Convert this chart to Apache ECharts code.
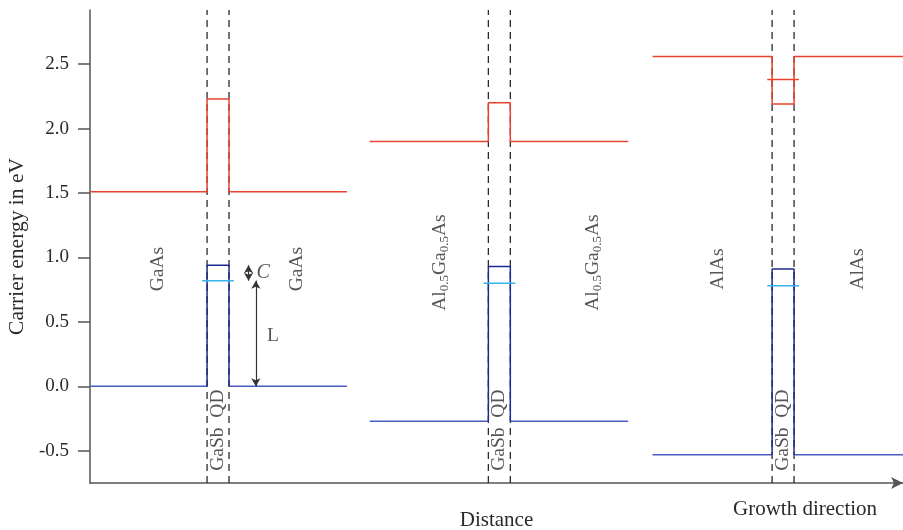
<!DOCTYPE html>
<html>
<head>
<meta charset="utf-8">
<script src="https://cdn.jsdelivr.net/npm/echarts@6/dist/echarts.min.js"></script>
<style>
  html, body { margin: 0; padding: 0; background: #fff; }
  #chart { width: 903px; height: 530px; }
</style>
</head>
<body>
<div id="chart"></div>
<script>
// three heterostructures: barrier material + GaSb QD
const barrierNames = ['GaAs', 'Al{s|0.5}Ga{s|0.5}As', 'AlAs']
const barrierStart = [0, 34.4, 69.2]
const wellLeft = [14.4, 49.0, 83.9]
const wellRight = [17.1, 51.7, 86.6]
const barrierEnd = [31.6, 66.2, 100]
// band edges (eV)
const cbBarrier = [1.51, 1.90, 2.56]
const cbWell = [2.23, 2.20, 2.19]
const vbBarrier = [0.0, -0.27, -0.53]
const vbWell = [0.94, 0.93, 0.91]
const holeLevel = [0.82, 0.80, 0.78]
const electronLevel = [null, null, 2.38]
// label positions (distance, energy)
const barrierLabelX = [[8.4, 25.5], [43.0, 61.9], [77.2, 94.5]]
const barrierLabelY = [0.91, 0.96, 0.91]
const qdLabelY = -0.34
const yTicks = [-0.5, 0.0, 0.5, 1.0, 1.5, 2.0, 2.5]
const yMin = -0.75
const yMax = 2.92

const RED = '#e8432f'
const BLUE = '#4a5cc2'
const NAVY = '#1b2b8f'
const CYAN = '#33b6ea'
const TEXT = '#2a2a2a'
const FONT = '"Liberation Serif", "DejaVu Serif", serif'

const chart = echarts.init(document.getElementById('chart'))

function seg (data, color, extra) {
  return Object.assign({
    type: 'line',
    data: data,
    symbol: 'none',
    silent: true,
    lineStyle: { color: color, width: 1.5 },
    z: 3
  }, extra || {})
}

const series = []
for (let i = 0; i < 3; i++) {
  const bs = barrierStart[i]
  const be = barrierEnd[i]
  const wl = wellLeft[i]
  const wr = wellRight[i]
  // dashed QD borders
  series.push(seg([[wl, yMin], [wl, yMax]], '#333', { lineStyle: { color: '#2a2a2a', width: 1.3, type: [7, 5] }, z: 2 }))
  series.push(seg([[wr, yMin], [wr, yMax]], '#333', { lineStyle: { color: '#2a2a2a', width: 1.3, type: [7, 5] }, z: 2 }))
  // conduction band
  series.push(seg([[bs, cbBarrier[i]], [wl, cbBarrier[i]], [wl, cbWell[i]], [wr, cbWell[i]], [wr, cbBarrier[i]], [be, cbBarrier[i]]], RED))
  if (electronLevel[i] !== null) {
    series.push(seg([[wl - 0.6, electronLevel[i]], [wr + 0.6, electronLevel[i]]], RED))
  }
  // valence band
  series.push(seg([[bs, vbBarrier[i]], [wl, vbBarrier[i]]], BLUE))
  series.push(seg([[wr, vbBarrier[i]], [be, vbBarrier[i]]], BLUE))
  series.push(seg([[wl, vbBarrier[i]], [wl, vbWell[i]], [wr, vbWell[i]], [wr, vbBarrier[i]]], NAVY, { z: 4 }))
  // hole ground state
  series.push(seg([[wl - 0.6, holeLevel[i]], [wr + 0.6, holeLevel[i]]], CYAN, { z: 5 }))
}

// text labels placed in data coordinates
const labelPoints = []
for (let i = 0; i < 3; i++) {
  barrierLabelX[i].forEach(function (x) {
    labelPoints.push({ value: [x, barrierLabelY[i]], name: barrierNames[i], rotate: 90 })
  })
  labelPoints.push({ value: [(wellLeft[i] + wellRight[i]) / 2, qdLabelY], name: 'GaSb  QD', rotate: 90 })
}
labelPoints.push({ value: [21.3, 0.88], name: '{i|C}', rotate: 0 })
labelPoints.push({ value: [22.5, 0.39], name: 'L', rotate: 0 })

series.push({
  type: 'scatter',
  symbolSize: 0,
  silent: true,
  z: 6,
  data: labelPoints.map(function (p) {
    return { value: p.value, name: p.name, label: { rotate: p.rotate } }
  }),
  label: {
    show: true,
    position: 'inside',
    formatter: function (p) { return p.name },
    color: TEXT,
    fontFamily: FONT,
    fontSize: 19.5,
    lineHeight: 22,
    rich: {
      s: { fontFamily: FONT, fontSize: 13, lineHeight: 12, verticalAlign: 'bottom', color: TEXT },
      i: { fontFamily: FONT, fontSize: 20, fontStyle: 'italic', color: TEXT }
    }
  },
  // double arrows for C and L
  markLine: {
    silent: true,
    symbol: ['arrow', 'arrow'],
    symbolSize: [7, 8],
    label: { show: false },
    lineStyle: { color: '#333', width: 1.2, type: 'solid' },
    data: [
      [{ coord: [19.5, vbWell[0]] }, { coord: [19.5, holeLevel[0]] }],
      [{ coord: [20.4, holeLevel[0]] }, { coord: [20.4, 0] }]
    ]
  }
})

const option = {
  animation: false,
  grid: { left: 90, right: 0, top: 10, bottom: 47, containLabel: false, outerBoundsMode: 'none' },
  xAxis: {
    type: 'value',
    min: 0,
    max: 100,
    name: 'Distance',
    nameLocation: 'middle',
    nameGap: 27,
    nameTextStyle: { fontFamily: FONT, fontSize: 21, color: TEXT },
    axisLine: { show: true, onZero: false, symbol: ['none', 'arrow'], symbolSize: [9, 12], lineStyle: { color: '#555', width: 1.5 } },
    axisTick: { show: false },
    axisLabel: { show: false },
    splitLine: { show: false }
  },
  yAxis: {
    type: 'value',
    min: yMin,
    max: yMax,
    name: 'Carrier energy in eV',
    nameLocation: 'middle',
    nameGap: 60,
    nameRotate: 90,
    nameTextStyle: { fontFamily: FONT, fontSize: 21.5, color: TEXT },
    axisLine: { show: true, lineStyle: { color: '#555', width: 1.5 } },
    axisTick: { show: true, length: 12, customValues: yTicks, lineStyle: { color: '#555', width: 1.5 } },
    axisLabel: {
      customValues: yTicks,
      margin: 21,
      fontFamily: FONT,
      fontSize: 19,
      color: TEXT,
      formatter: function (v) { return v.toFixed(1) }
    },
    splitLine: { show: false }
  },
  graphic: [{
    type: 'text',
    left: 733,
    top: 499,
    style: { text: 'Growth direction', font: '21px ' + FONT, fill: TEXT }
  }],
  series: series
}
chart.setOption(option)
</script>
</body>
</html>
